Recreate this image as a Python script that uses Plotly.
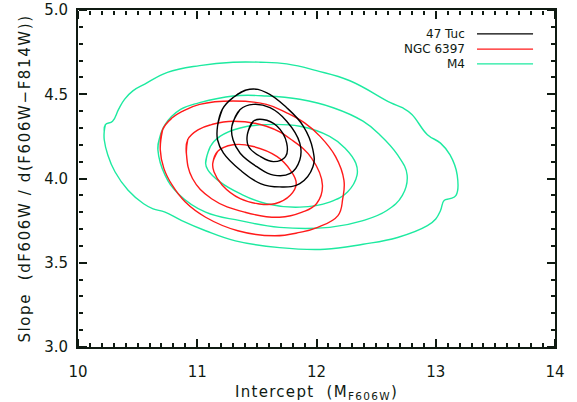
import plotly.graph_objects as go

# ---------------- data ----------------
m4_out_x = [10.22, 10.23, 10.29, 10.34, 10.39, 10.46, 10.56, 10.75, 11.02, 11.30, 11.53, 11.75, 12.00, 12.28,
            12.62, 12.72, 12.80, 12.93, 13.04, 13.12, 13.18, 13.17, 13.12, 13.07, 13.04, 13.00, 12.93, 12.68,
            12.39, 12.07, 11.69, 11.32, 11.07, 10.87, 10.73, 10.63, 10.55, 10.42, 10.31, 10.25, 10.22]
m4_out_y = [4.28, 4.32, 4.34, 4.41, 4.47, 4.52, 4.56, 4.63, 4.67, 4.69, 4.69, 4.68, 4.64, 4.58,
            4.45, 4.42, 4.38, 4.26, 4.21, 4.14, 4.02, 3.90, 3.88, 3.87, 3.81, 3.76, 3.72, 3.65,
            3.61, 3.58, 3.59, 3.63, 3.69, 3.75, 3.80, 3.82, 3.85, 3.93, 4.04, 4.14, 4.23]
m4_mid_x = [10.67, 10.68, 10.73, 10.86, 11.02, 11.30, 11.58, 11.86, 12.14, 12.39, 12.53, 12.68, 12.76,
            12.72, 12.59, 12.39, 12.11, 11.69, 11.36, 11.07, 10.84, 10.73]
m4_mid_y = [4.17, 4.23, 4.32, 4.41, 4.45, 4.49, 4.49, 4.47, 4.42, 4.34, 4.26, 4.14, 4.02,
            3.90, 3.81, 3.75, 3.71, 3.71, 3.75, 3.80, 3.91, 4.02]
m4_in_x = [11.07, 11.11, 11.19, 11.36, 11.58, 11.86, 12.11, 12.24, 12.33, 12.34, 12.26, 12.11, 11.86,
           11.58, 11.36, 11.19, 11.09]
m4_in_y = [4.09, 4.19, 4.25, 4.30, 4.32, 4.31, 4.25, 4.18, 4.09, 4.02, 3.92, 3.86, 3.83,
           3.85, 3.91, 3.98, 4.05]

n6397_out_x = [10.69, 10.71, 10.79, 10.88, 11.02, 11.30, 11.58, 11.75, 11.90, 12.03, 12.16, 12.23, 12.22,
               12.18, 12.01, 11.86, 11.65, 11.34, 11.07, 10.90, 10.79, 10.72]
n6397_out_y = [4.17, 4.29, 4.36, 4.40, 4.44, 4.46, 4.44, 4.39, 4.33, 4.25, 4.13, 3.99, 3.88,
               3.78, 3.71, 3.68, 3.66, 3.69, 3.77, 3.86, 3.96, 4.06]
n6397_mid_x = [10.91, 10.92, 11.01, 11.12, 11.30, 11.58, 11.79, 11.96, 12.05, 12.00, 11.88, 11.69, 11.40,
               11.12, 10.96]
n6397_mid_y = [4.14, 4.23, 4.29, 4.32, 4.34, 4.31, 4.23, 4.12, 3.96, 3.85, 3.80, 3.77, 3.80,
               3.88, 4.00]
n6397_in_x = [11.13, 11.17, 11.30, 11.47, 11.67, 11.78, 11.83, 11.78, 11.65, 11.51, 11.36, 11.21, 11.14]
n6397_in_y = [4.09, 4.16, 4.20, 4.19, 4.13, 4.05, 3.97, 3.90, 3.85, 3.85, 3.88, 3.96, 4.04]

tuc_out_x = [11.17, 11.21, 11.30, 11.44, 11.58, 11.75, 11.89, 11.97, 11.97, 11.86, 11.69, 11.53, 11.36,
             11.22, 11.17]
tuc_out_y = [4.31, 4.41, 4.48, 4.53, 4.51, 4.42, 4.31, 4.17, 4.07, 3.97, 3.95, 3.97, 4.05,
             4.15, 4.23]
tuc_mid_x = [11.29, 11.36, 11.47, 11.61, 11.75, 11.86, 11.86, 11.78, 11.64, 11.50, 11.36, 11.30]
tuc_mid_y = [4.31, 4.41, 4.44, 4.42, 4.34, 4.21, 4.11, 4.03, 4.02, 4.07, 4.15, 4.23]
tuc_in_x = [11.42, 11.47, 11.55, 11.67, 11.75, 11.74, 11.64, 11.53, 11.43]
tuc_in_y = [4.26, 4.34, 4.35, 4.31, 4.21, 4.13, 4.10, 4.13, 4.19]

cluster_names = ["47 Tuc", "NGC 6397", "M4"]
x_ticks = [10, 11, 12, 13, 14]
y_ticks = [3.0, 3.5, 4.0, 4.5, 5.0]
x_range = [10, 14]
y_range = [3.0, 5.0]

# ---------------- styling ----------------
colors = {"47 Tuc": "#000000", "NGC 6397": "#ff1a1a", "M4": "#1deaa0"}
txt = "#0f1a12"
font = "DejaVu Sans"

contours = {
    "M4": [(m4_out_x, m4_out_y), (m4_mid_x, m4_mid_y), (m4_in_x, m4_in_y)],
    "NGC 6397": [(n6397_out_x, n6397_out_y), (n6397_mid_x, n6397_mid_y), (n6397_in_x, n6397_in_y)],
    "47 Tuc": [(tuc_out_x, tuc_out_y), (tuc_mid_x, tuc_mid_y), (tuc_in_x, tuc_in_y)],
}

fig = go.Figure()
for name in ["M4", "NGC 6397", "47 Tuc"]:
    for xs, ys in contours[name]:
        cx = list(xs) + list(xs[:2])
        cy = list(ys) + list(ys[:2])
        fig.add_trace(go.Scatter(
            x=cx, y=cy, mode="lines",
            line=dict(color=colors[name], width=1.4, shape="spline", smoothing=1.2),
            showlegend=False, hoverinfo="skip"))

# empty traces that activate the overlay axes used only to draw the inward-pointing ticks
for xa, ya in [("x2", "y2"), ("x3", "y3")]:
    fig.add_trace(go.Scatter(x=[], y=[], xaxis=xa, yaxis=ya, mode="lines",
                             showlegend=False, hoverinfo="skip"))

leg_y = [0.929, 0.884, 0.840]
for name, yy in zip(cluster_names, leg_y):
    fig.add_annotation(x=0.815, y=yy, xref="paper", yref="paper", text=name,
                       showarrow=False, xanchor="right", yanchor="middle",
                       font=dict(family=font, size=12, color=txt))
    fig.add_shape(type="line", xref="paper", yref="paper", x0=0.8365, x1=0.954, y0=yy, y1=yy,
                  line=dict(color=colors[name], width=1.3))

# main axes: frame + labels
main_common = dict(showgrid=False, zeroline=False, showline=True, linecolor=txt, linewidth=2,
                   mirror=True, ticks="", tickfont=dict(family=font, size=15, color=txt),
                   automargin=False)
fig.update_layout(
    xaxis=dict(range=x_range, tickvals=x_ticks, ticktext=[str(v) for v in x_ticks],
               ticklabelstandoff=10,
               title=dict(text="<span style='letter-spacing:1.3px'>Intercept  (M<sub>F606W</sub>)</span>",
                          font=dict(family=font, size=15, color=txt), standoff=12),
               **main_common),
    yaxis=dict(range=y_range, tickvals=y_ticks, ticktext=[f"{v:.1f}" for v in y_ticks],
               ticklabelstandoff=5,
               title=dict(text="<span style='letter-spacing:1.6px'>Slope  (dF606W / d(F606W−F814W))</span>",
                          font=dict(family=font, size=15, color=txt), standoff=10),
               **main_common),
)

# tick-only overlay axes: "outside" ticks of an axis placed on the opposite edge point into the frame
tick_common = dict(showgrid=False, zeroline=False, showline=False, showticklabels=False,
                   ticks="outside", ticklen=8, tickwidth=2, tickcolor=txt, automargin=False,
                   anchor="free")
minor_common = dict(ticks="outside", ticklen=4, tickwidth=1.5, tickcolor=txt, dtick=0.1)
fig.update_layout(
    xaxis2=dict(overlaying="x", side="top", position=0, range=x_range, tickvals=x_ticks,
                minor=minor_common, **tick_common),
    xaxis3=dict(overlaying="x", side="bottom", position=1, range=x_range, tickvals=x_ticks,
                minor=minor_common, **tick_common),
    yaxis2=dict(overlaying="y", side="right", position=0, range=y_range, tickvals=y_ticks,
                minor=minor_common, **tick_common),
    yaxis3=dict(overlaying="y", side="left", position=1, range=y_range, tickvals=y_ticks,
                minor=minor_common, **tick_common),
)

fig.update_layout(width=577, height=402, margin=dict(l=78, r=22, t=10, b=55),
                  paper_bgcolor="white", plot_bgcolor="rgba(0,0,0,0)")
fig.write_html("out.html")
